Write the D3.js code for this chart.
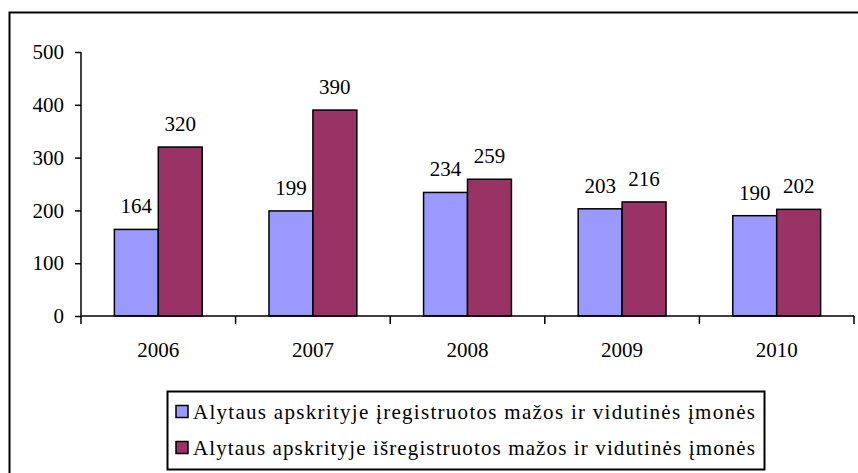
<!DOCTYPE html>
<html>
<head>
<meta charset="utf-8">
<script src="https://cdn.jsdelivr.net/npm/d3@7"></script>
<style>
  body { margin: 0; background: #fff; }
  svg text { font-family: "Liberation Serif", "Times New Roman", serif; fill: #000; }
  .axis path, .axis line { stroke: #000; stroke-width: 1.5; }
  .axis text { font-size: 21px; }
</style>
</head>
<body>
<div id="chart"></div>
<script>
const years = ['2006', '2007', '2008', '2009', '2010'];
const registered = [164, 199, 234, 203, 190];
const deregistered = [320, 390, 259, 216, 202];
const seriesNames = [
  'Alytaus apskrityje įregistruotos mažos ir vidutinės įmonės',
  'Alytaus apskrityje išregistruotos mažos ir vidutinės įmonės'
];
const colors = ['#9999ff', '#993366'];
const yTicks = [0, 100, 200, 300, 400, 500];

const width = 858, height = 473;

let svg = d3.select('#chart')
  .append('svg')
  .attr('width', width)
  .attr('height', height);

// outer frame (runs off the right and bottom edges)
svg.append('rect')
  .attr('x', 9.5).attr('y', 12.5)
  .attr('width', 900).attr('height', 500)
  .attr('fill', 'none')
  .attr('stroke', '#000')
  .attr('stroke-width', 2);

let x0 = d3.scaleBand().domain(years).range([81, 854]).padding(0);
let x1 = d3.scaleBand().domain([0, 1]).range([0, x0.bandwidth()])
  .paddingInner(0).paddingOuter(0.76);
let y = d3.scaleLinear().domain([0, 500]).range([316, 52]);

const rows = years.map((yr, i) => ({year: yr, values: [registered[i], deregistered[i]]}));

// y axis
svg.append('g')
  .attr('class', 'axis')
  .attr('transform', 'translate(81,0)')
  .call(d3.axisLeft(y).tickValues(yTicks).tickSize(6).tickSizeOuter(0).tickPadding(11))
  .call(g => g.select('.domain').attr('d', `M0,${y(500)}V${y(0)}`));

// bars
let groups = svg.append('g').selectAll('g')
  .data(rows)
  .enter().append('g')
  .attr('transform', d => `translate(${x0(d.year)},0)`);

groups.selectAll('rect')
  .data(d => d.values.map((v, k) => ({v, k})))
  .enter().append('rect')
  .attr('x', d => x1(d.k))
  .attr('y', d => y(d.v))
  .attr('width', x1.bandwidth())
  .attr('height', d => y(0) - y(d.v))
  .attr('fill', d => colors[d.k])
  .attr('stroke', '#000')
  .attr('stroke-width', 1.5);

groups.selectAll('text')
  .data(d => d.values.map((v, k) => ({v, k})))
  .enter().append('text')
  .attr('x', d => x1(d.k) + x1.bandwidth() / 2)
  .attr('y', d => y(d.v) - 16)
  .attr('text-anchor', 'middle')
  .attr('font-size', 21)
  .text(d => d.v);

// x axis
let xAxis = svg.append('g')
  .attr('class', 'axis')
  .attr('transform', `translate(0,${y(0)})`)
  .call(d3.axisBottom(x0).tickSize(0).tickPadding(26));
xAxis.select('.domain').attr('d', `M${x0.range()[0]},0H${x0.range()[1]}`);
xAxis.selectAll('.boundary')
  .data(years.map(d => x0(d)).concat([x0.range()[1]]))
  .enter().append('line')
  .attr('class', 'boundary')
  .attr('x1', d => d).attr('x2', d => d)
  .attr('y1', 0).attr('y2', 8);

// legend
let legend = svg.append('g');
legend.append('rect')
  .attr('x', 167.5).attr('y', 391.5)
  .attr('width', 597).attr('height', 78)
  .attr('fill', '#fff')
  .attr('stroke', '#000')
  .attr('stroke-width', 2);

let items = legend.selectAll('g.item')
  .data(seriesNames)
  .enter().append('g')
  .attr('class', 'item')
  .attr('transform', (d, i) => `translate(0,${i * 36})`);

items.append('rect')
  .attr('x', 176).attr('y', 405.5)
  .attr('width', 12).attr('height', 12)
  .attr('fill', (d, i) => colors[i])
  .attr('stroke', '#000')
  .attr('stroke-width', 1.5);

items.append('text')
  .attr('x', 193).attr('y', 419)
  .attr('font-size', 21)
  .attr('textLength', 562)
  .attr('lengthAdjust', 'spacing')
  .text(d => d);
</script>
</body>
</html>
